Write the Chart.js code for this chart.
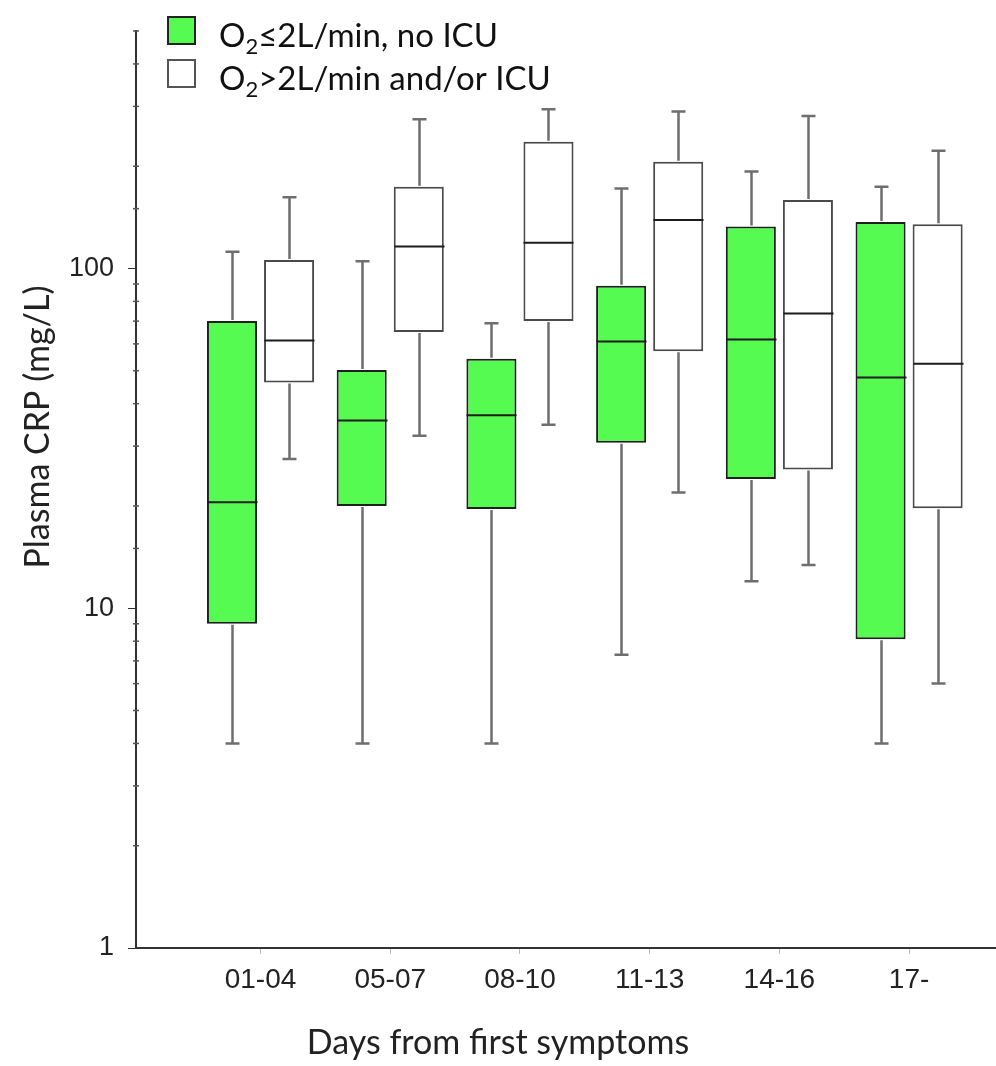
<!DOCTYPE html>
<html>
<head>
<meta charset="utf-8">
<script src="https://cdn.jsdelivr.net/npm/chart.js@4.4.1/dist/chart.umd.min.js"></script>
<style>
body{margin:0;background:#fff}
#wrap{width:996px;height:1066px;position:relative}
</style>
</head>
<body>
<div id="wrap"><canvas id="crp"></canvas></div>
<script>
const categories=["01-04","05-07","08-10","11-13","14-16","17-"]
const seriesNames=["O\u2082\u22642L/min, no ICU","O\u2082>2L/min and/or ICU"]
const yTicks=[1,10,100]

// O2 <= 2L/min, no ICU
const lowMin=[4.0,4.0,4.0,7.3,12.0,4.0]
const lowQ1=[9.0,20.0,19.6,30.7,24.0,8.1]
const lowMedian=[20.5,35.7,37.0,61.0,61.8,47.8]
const lowQ3=[70,50.3,54.2,88.9,133,137]
const lowMax=[112,105,69,172,193,174]

// O2 > 2L/min and/or ICU
const highMin=[27.5,32.2,34.7,21.9,13.4,6.0]
const highQ1=[46.2,65.0,70.1,57.1,25.6,19.7]
const highMedian=[61.4,116,119,139,73.7,52.4]
const highQ3=[106,174,236,206,159,135]
const highMax=[162,275,294,290,281,222]

const textFont="Lato, 'Open Sans', sans-serif"
const tickFont="'Liberation Sans', Arial, sans-serif"

function boxes(q1,q3){
    return categories.map((c,i)=>({x:i+1,y:[q1[i],q3[i]]}))
}

const boxPlugin={
    id:"boxes",
    afterDatasetsDraw(chart){
        const ctx=chart.ctx
        const y=chart.scales.y
        ctx.save()
        chart.data.datasets.forEach((ds,d)=>{
            const meta=chart.getDatasetMeta(d)
            meta.data.forEach((bar,i)=>{
                const x=Math.round(bar.x)+0.5
                const half=bar.width/2
                const top=Math.min(bar.y,bar.base)
                const bottom=Math.max(bar.y,bar.base)
                const yMax=y.getPixelForValue(ds.whiskerMax[i])
                const yMin=y.getPixelForValue(ds.whiskerMin[i])
                const yMed=y.getPixelForValue(ds.median[i])
                ctx.strokeStyle="#6e6e6e"
                ctx.lineWidth=2.5
                ctx.beginPath()
                ctx.moveTo(x,top-1);ctx.lineTo(x,yMax)
                ctx.moveTo(x-7,yMax);ctx.lineTo(x+7,yMax)
                ctx.moveTo(x,bottom+1);ctx.lineTo(x,yMin)
                ctx.moveTo(x-7,yMin);ctx.lineTo(x+7,yMin)
                ctx.stroke()
                ctx.strokeStyle="#1c1c1c"
                ctx.lineWidth=2
                ctx.beginPath()
                ctx.moveTo(x-half,yMed);ctx.lineTo(x+half,yMed)
                ctx.stroke()
            })
        })
        ctx.restore()
    },
    afterDraw(chart){
        const ctx=chart.ctx
        const y=chart.scales.y
        const left=chart.chartArea.left
        ctx.save()
        // minor ticks on the log axis
        ctx.strokeStyle="#555"
        ctx.lineWidth=1.5
        y.ticks.forEach(t=>{
            if(yTicks.includes(t.value)) return
            const py=y.getPixelForValue(t.value)
            ctx.beginPath()
            ctx.moveTo(left-3,py);ctx.lineTo(left+3,py)
            ctx.stroke()
        })

        // legend
        chart.data.datasets.forEach((ds,d)=>{
            const by=17+d*43
            ctx.fillStyle=ds.backgroundColor
            ctx.fillRect(168,by,27,27)
            ctx.strokeStyle=d==0?"#222":"#555"
            ctx.lineWidth=2
            ctx.strokeRect(168,by,27,27)
            const parts=ds.label.split("\u2082")
            const base=by+30
            ctx.fillStyle="#111"
            ctx.textBaseline="alphabetic"
            ctx.textAlign="left"
            ctx.font="33px "+textFont
            let tx=219
            ctx.fillText(parts[0],tx,base)
            tx+=ctx.measureText(parts[0]).width
            ctx.font="22px "+textFont
            ctx.fillText("2",tx,base+7)
            tx+=ctx.measureText("2").width
            ctx.font="33px "+textFont
            ctx.fillText(parts[1],tx,base)
        })

        // axis titles
        ctx.fillStyle="#222"
        ctx.textAlign="center"
        ctx.textBaseline="alphabetic"
        ctx.font="34px "+textFont
        ctx.fillText("Days from first symptoms",498,1054)
        ctx.translate(49,427)
        ctx.rotate(-Math.PI/2)
        ctx.fillText("Plasma CRP (mg/L)",0,0)
        ctx.restore()
    }
}

new Chart(document.getElementById("crp"),{
    type:"bar",
    data:{
        datasets:[
            {
                label:seriesNames[0],
                data:boxes(lowQ1,lowQ3),
                whiskerMin:lowMin,whiskerMax:lowMax,median:lowMedian,
                backgroundColor:"#55fb50",
                borderColor:"#1e1e1e",
                borderWidth:2,
                borderSkipped:false
            },
            {
                label:seriesNames[1],
                data:boxes(highQ1,highQ3),
                whiskerMin:highMin,whiskerMax:highMax,median:highMedian,
                backgroundColor:"#ffffff",
                borderColor:"#4a4a4a",
                borderWidth:2,
                borderSkipped:false
            }
        ]
    },
    options:{
        responsive:true,
        maintainAspectRatio:false,
        animation:false,
        categoryPercentage:0.88,
        barPercentage:0.877,
        layout:{padding:{top:31,left:0,right:0,bottom:0}},
        plugins:{legend:{display:false},tooltip:{enabled:false}},
        scales:{
            x:{
                type:"linear",
                offset:false,
                min:0.04,
                max:6.67,
                afterBuildTicks(scale){
                    scale.ticks=categories.map((c,i)=>({value:i+1}))
                },
                afterFit(scale){scale.height=118},
                border:{color:"#333",width:2},
                grid:{drawOnChartArea:false,offset:false,tickLength:6,tickColor:"#bbb"},
                ticks:{
                    autoSkip:false,
                    maxRotation:0,
                    padding:9,
                    color:"#222",
                    font:{family:tickFont,size:28},
                    callback:(v)=>categories[v-1]??""
                }
            },
            y:{
                type:"logarithmic",
                min:1,
                max:500,
                afterFit(scale){scale.width=136},
                border:{color:"#333",width:2},
                grid:{
                    drawOnChartArea:false,
                    tickLength:8,
                    tickColor:(c)=>yTicks.includes(c.tick.value)?"#333":"rgba(0,0,0,0)"
                },
                ticks:{
                    autoSkip:false,
                    padding:14,
                    color:"#222",
                    font:{family:tickFont,size:27},
                    callback:(v)=>yTicks.includes(v)?String(v):""
                }
            }
        }
    },
    plugins:[boxPlugin]
})
</script>
</body>
</html>
